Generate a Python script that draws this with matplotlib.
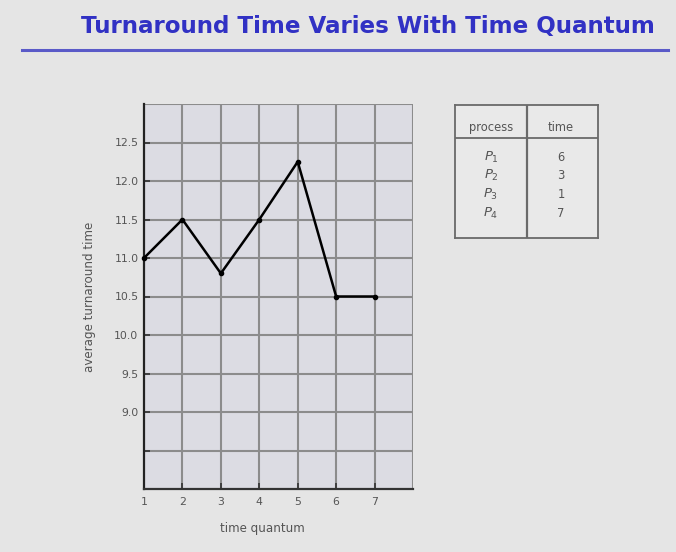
import matplotlib
matplotlib.use("Agg")
import matplotlib.pyplot as plt
from matplotlib.lines import Line2D

# data
quantum = [1, 2, 3, 4, 5, 6, 7]
turnaround = [11.0, 11.5, 10.8, 11.5, 12.25, 10.5, 10.5]
ytick_vals = [8.5, 9.0, 9.5, 10.0, 10.5, 11.0, 11.5, 12.0, 12.5]
ytick_labels = ["", "9.0", "9.5", "10.0", "10.5", "11.0", "11.5", "12.0", "12.5"]
processes = ["P_1", "P_2", "P_3", "P_4"]
burst_times = [6, 3, 1, 7]

W, H = 676, 552
bg = "#e5e5e5"
grid_c = "#8c8c8c"
txt_c = "#555555"

fig = plt.figure(figsize=(W / 100, H / 100), dpi=100, facecolor=bg)

# title + rule
fig.text(368 / W, 1 - 26 / H, "Turnaround Time Varies With Time Quantum",
         ha="center", va="center", fontsize=16.6, fontweight="bold",
         color="#3131c4")
fig.add_artist(Line2D([22 / W, 668 / W], [1 - 50 / H, 1 - 50 / H],
                      color="#5a5ac8", lw=2.2, transform=fig.transFigure))

# main chart
ax = fig.add_axes([144 / W, 1 - 489 / H, 269 / W, 385 / H])
ax.set_facecolor("#dcdce3")
ax.set_xlim(1, 8)
ax.set_ylim(8, 13)
ax.set_xticks(quantum)
ax.set_yticks(ytick_vals)
ax.set_yticklabels(ytick_labels)
for v in quantum[1:] + [8]:
    ax.axvline(v, color=grid_c, lw=1.5, zorder=1)
for v in ytick_vals + [13]:
    ax.axhline(v, color=grid_c, lw=1.5, zorder=1)
ax.plot(quantum, turnaround, color="black", lw=1.8, marker="o", ms=3,
        zorder=3, clip_on=False)

for s in ["top", "right"]:
    ax.spines[s].set_visible(False)
ax.spines["left"].set_color("#222222")
ax.spines["left"].set_linewidth(1.6)
ax.spines["bottom"].set_color("#333333")
ax.spines["bottom"].set_linewidth(1.6)
ax.tick_params(direction="in", length=4, width=1.2, color="#333333",
               labelsize=7.8, labelcolor=txt_c)
ax.tick_params(axis="y", pad=4)
ax.tick_params(axis="x", pad=6)
ax.set_xlabel("time quantum", fontsize=8.6, color=txt_c)
ax.xaxis.set_label_coords(0.44, -0.085)
ax.set_ylabel("average turnaround time", fontsize=8.6, color=txt_c)
ax.yaxis.set_label_coords(-0.18, 0.5)

# process table
tx = fig.add_axes([455 / W, 1 - 238 / H, 143 / W, 133 / H])
tx.set_xlim(0, 143)
tx.set_ylim(133, 0)
tx.set_facecolor("#e9e9e9")
for s in tx.spines.values():
    s.set_color("#6a6a6a")
    s.set_linewidth(1.3)
tx.set_xticks([])
tx.set_yticks([])
tx.axhline(33, color="#6a6a6a", lw=1.3)
tx.axvline(72, color="#6a6a6a", lw=1.6)
tx.text(36, 22, "process", ha="center", va="center", fontsize=8.3,
        color=txt_c)
tx.text(106, 22, "time", ha="center", va="center", fontsize=8.3,
        color=txt_c)
for i, (p, t) in enumerate(zip(processes, burst_times)):
    y = 52 + i * 18.7
    tx.text(36, y, "$%s$" % p, ha="center", va="center", fontsize=9.5,
            color=txt_c)
    tx.text(106, y, str(t), ha="center", va="center", fontsize=8.3,
            color=txt_c)

fig.savefig("out.png", dpi=100, facecolor=bg)
